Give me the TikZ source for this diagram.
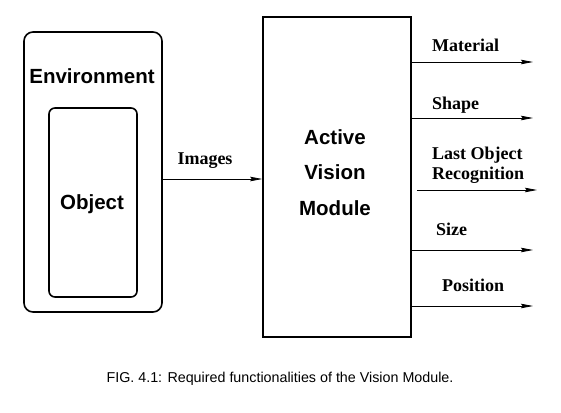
\documentclass[tikz,border=0pt]{standalone}
\usepackage{fontspec}
\setmainfont{Liberation Serif}
\setsansfont{Liberation Sans}
\usetikzlibrary{arrows.meta}
\begin{document}
\begin{tikzpicture}[x=1pt,y=-1pt,
  boxlabel/.style={font=\sffamily\bfseries\fontsize{20.5}{35.5}\selectfont, inner sep=0pt, align=center},
  flowlabel/.style={font=\rmfamily\bfseries\fontsize{18}{20}\selectfont, inner sep=0pt, anchor=base west, align=left},
  outerbox/.style={draw, line width=1.6pt, rounded corners=9pt, minimum width=138pt, minimum height=280pt, inner sep=0pt},
  innerbox/.style={draw, line width=1.6pt, rounded corners=6pt, minimum width=88pt, minimum height=189pt, inner sep=0pt},
  modbox/.style={draw, line width=1.6pt, minimum width=148pt, minimum height=320pt, inner sep=0pt},
  flow/.style={line width=0.8pt, -{Stealth[length=12pt,width=4.5pt,inset=1.5pt]}}]
\useasboundingbox (0,0) rectangle (561,412);

% Environment containing the object
\node[outerbox] (env) at (93,172) {};
\node[boxlabel, anchor=base] (envlabel) at (92,83) {Environment};
\node[innerbox] (obj) at (93,202.5) {};
\node[boxlabel, anchor=base] (objlabel) at (92,209.5) {Object};

% Active vision module (base anchor sits on the last line)
\node[modbox] (mod) at (337,177) {};
\node[boxlabel, anchor=base] (modlabel) at (335,215) {Active\\Vision\\Module};

% Input images
\draw[flow] (env.east |- 0,179) -- (mod.west |- 0,179);
\node[flowlabel, anchor=base] (imglabel) at (205,164) {Images};

% Outputs
\coordinate (o1) at (533,62);
\coordinate (o2) at (533,118);
\coordinate (o3) at (537,190);
\coordinate (o4) at (533,250);
\coordinate (o5) at (533,306);
\draw[flow] (mod.east |- o1) -- (o1);
\draw[flow] (mod.east |- o2) -- (o2);
\draw[flow] ([xshift=5pt]mod.east |- o3) -- (o3);
\draw[flow] (mod.east |- o4) -- (o4);
\draw[flow] (mod.east |- o5) -- (o5);

\node[flowlabel] (l1) at (432,52) {Material};
\node[flowlabel] (l2) at (432,109) {Shape};
\node[flowlabel] (l3) at (432,179) {Last Object\\Recognition};
\node[flowlabel] (l4) at (436,235) {Size};
\node[flowlabel] (l5) at (442,291) {Position};

% Caption
\node[font=\sffamily\fontsize{14.3}{16}\selectfont, anchor=base, inner sep=0pt] (cap) at (280,382)
  {FIG. 4.1: Required functionalities of the Vision Module.};
\end{tikzpicture}
\end{document}
